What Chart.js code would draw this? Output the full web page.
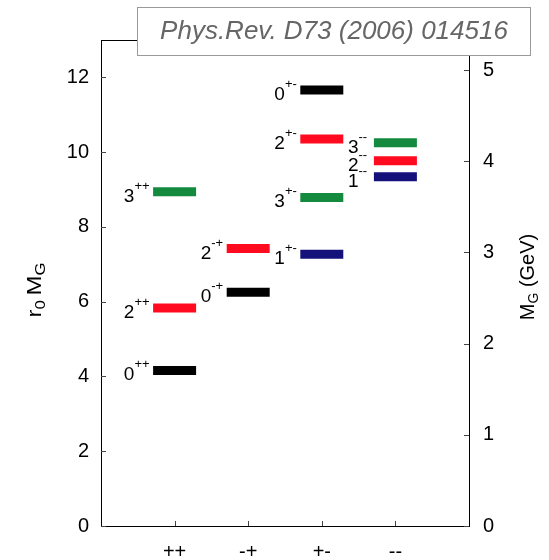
<!DOCTYPE html>
<html>
<head>
<meta charset="utf-8">
<script src="https://cdn.jsdelivr.net/npm/chart.js@4/dist/chart.umd.min.js"></script>
<style>
  html, body { margin: 0; padding: 0; background: #ffffff; }
  #wrap { width: 549px; height: 560px; position: relative; }
</style>
</head>
<body>
<div id="wrap"><canvas id="c" width="549" height="560"></canvas></div>
<script>
// ---- data ----
const categories = ['++', '-+', '+-', '--'];            // PC sectors (x ticks)
const stateJ     = [0, 2, 3, 0, 2, 0, 2, 3, 1, 3, 2, 1];  // spin of each state
const statePC    = ['++', '++', '++', '-+', '-+', '+-', '+-', '+-', '+-', '--', '--', '--'];
const r0Mass     = [4.16, 5.83, 8.94, 6.25, 7.42, 11.66, 10.35, 8.79, 7.27, 10.25, 9.77, 9.34];
const leftTicks  = [0, 2, 4, 6, 8, 10, 12];               // r0 M_G
const rightTicks = [0, 1, 2, 3, 4, 5];                    // M_G (GeV)
const gevPerR0Unit = 0.41;                                // r0^-1 = 410 MeV
const yMaxR0 = 13;
const citation = 'Phys.Rev. D73 (2006) 014516';

// ---- styles ----
const jColors = ['#000000', '#14127a', '#ff0a1e', '#138a3e'];
const FONT = '"Liberation Sans", Arial, Helvetica, sans-serif';

const points = r0Mass.map((m, i) => ({ x: categories.indexOf(statePC[i]) + 1, y: m }));
const pointColors = stateJ.map(j => jColors[j]);

const overlay = {
  id: 'overlay',
  afterDraw(chart) {
    const ctx = chart.ctx;
    const ca = chart.chartArea;
    const xs = chart.scales.x, yl = chart.scales.y, yr = chart.scales.y2;
    ctx.save();
    // frame
    ctx.strokeStyle = '#000';
    ctx.lineWidth = 1;
    ctx.strokeRect(Math.round(ca.left) + 0.5, Math.round(ca.top) + 0.5,
                   Math.round(ca.right - ca.left), Math.round(ca.bottom - ca.top));
    // inward ticks
    ctx.strokeStyle = '#444';
    ctx.beginPath();
    leftTicks.forEach(v => {
      const y = Math.round(yl.getPixelForValue(v)) + 0.5;
      ctx.moveTo(ca.left, y); ctx.lineTo(ca.left + 5, y);
    });
    rightTicks.forEach(v => {
      const y = Math.round(yr.getPixelForValue(v)) + 0.5;
      ctx.moveTo(ca.right, y); ctx.lineTo(ca.right - 5, y);
    });
    categories.forEach((c, i) => {
      const x = Math.round(xs.getPixelForValue(i + 1)) + 0.5;
      ctx.moveTo(x, ca.bottom); ctx.lineTo(x, ca.bottom - 5);
    });
    ctx.stroke();

    // state labels  J^{PC}
    const meta = chart.getDatasetMeta(0);
    ctx.fillStyle = '#000';
    ctx.textBaseline = 'alphabetic';
    ctx.textAlign = 'left';
    const barHalf = chart.data.datasets[0].pointRadius;
    ctx.font = '13px ' + FONT;
    const refSupW = ctx.measureText('+-').width;
    meta.data.forEach((el, i) => {
      const px = el.x, py = el.y;
      const j = String(stateJ[i]), pc = statePC[i];
      ctx.font = '13px ' + FONT;
      const supW = ctx.measureText(pc).width;
      ctx.font = '19px ' + FONT;
      const dW = ctx.measureText(j).width;
      const startX = px - barHalf - 3.5 - dW - Math.max(supW, refSupW);
      ctx.fillText(j, startX, py + 10);
      ctx.font = '13px ' + FONT;
      ctx.fillText(pc, startX + dW, py - 2);
    });

    // axis titles
    const drawSub = (parts, cx, cy, rot, stretch) => {
      ctx.save();
      ctx.translate(cx, cy);
      ctx.rotate(rot);
      ctx.scale(stretch, 1);
      let total = 0;
      parts.forEach(p => { ctx.font = p.size + 'px ' + FONT; total += ctx.measureText(p.t).width + (p.gap || 0); });
      let x = -total / 2;
      ctx.textAlign = 'left';
      ctx.textBaseline = 'alphabetic';
      parts.forEach(p => {
        ctx.font = p.size + 'px ' + FONT;
        ctx.fillText(p.t, x, p.dy);
        x += ctx.measureText(p.t).width + (p.gap || 0);
      });
      ctx.restore();
    };
    drawSub([{ t: 'r', size: 20, dy: 7 }, { t: '0', size: 14, dy: 11, gap: 4 },
             { t: 'M', size: 20, dy: 7 }, { t: 'G', size: 14, dy: 11 }], 34, 290, -Math.PI / 2, 1.2);
    drawSub([{ t: 'M', size: 20, dy: 7 }, { t: 'G', size: 14, dy: 11 },
             { t: ' (GeV)', size: 20, dy: 7 }], 527, 277, -Math.PI / 2, 1);

    // citation box
    ctx.fillStyle = '#fff';
    ctx.fillRect(137, 7, 393, 48);
    ctx.strokeStyle = '#9a9a9a';
    ctx.lineWidth = 1;
    ctx.strokeRect(137.5, 7.5, 393, 48);
    ctx.fillStyle = '#666';
    ctx.font = 'italic 26px ' + FONT;
    ctx.textAlign = 'center';
    ctx.textBaseline = 'middle';
    ctx.fillText(citation, 334, 32);
    ctx.restore();
  }
};

Chart.defaults.font.family = FONT;
Chart.defaults.color = '#000';

new Chart(document.getElementById('c'), {
  type: 'scatter',
  data: {
    datasets: [{
      data: points,
      pointStyle: 'line',
      pointRadius: 21.5,
      pointHoverRadius: 21.5,
      pointBorderWidth: 9,
      pointHoverBorderWidth: 9,
      pointBorderColor: pointColors,
      pointBackgroundColor: pointColors,
      borderColor: pointColors,
      showLine: false,
      clip: false
    }]
  },
  options: {
    responsive: false,
    animation: false,
    events: [],
    layout: { padding: { top: 40, left: 0, right: 0, bottom: 0 } },
    plugins: { legend: { display: false }, tooltip: { enabled: false }, title: { display: false } },
    scales: {
      x: {
        type: 'linear', position: 'bottom', min: 0, max: 5,
        afterBuildTicks: s => { s.ticks = categories.map((c, i) => ({ value: i + 1 })); },
        afterFit: s => { s.height = 34; },
        ticks: { callback: v => categories[v - 1] || '', padding: 14, font: { size: 20 }, color: '#000', maxRotation: 0 },
        grid: { display: false, drawTicks: false },
        border: { display: false }
      },
      y: {
        type: 'linear', position: 'left', min: 0, max: yMaxR0,
        afterBuildTicks: s => { s.ticks = leftTicks.map(v => ({ value: v })); },
        afterFit: s => { s.width = 101; },
        ticks: { padding: 12, font: { size: 20 }, color: '#000' },
        grid: { display: false, drawTicks: false },
        border: { display: false }
      },
      y2: {
        type: 'linear', position: 'right', min: 0, max: yMaxR0 * gevPerR0Unit,
        afterBuildTicks: s => { s.ticks = rightTicks.map(v => ({ value: v })); },
        afterFit: s => { s.width = 80; },
        ticks: { padding: 14, font: { size: 20 }, color: '#000' },
        grid: { display: false, drawTicks: false },
        border: { display: false }
      }
    }
  },
  plugins: [overlay]
});
</script>
</body>
</html>
